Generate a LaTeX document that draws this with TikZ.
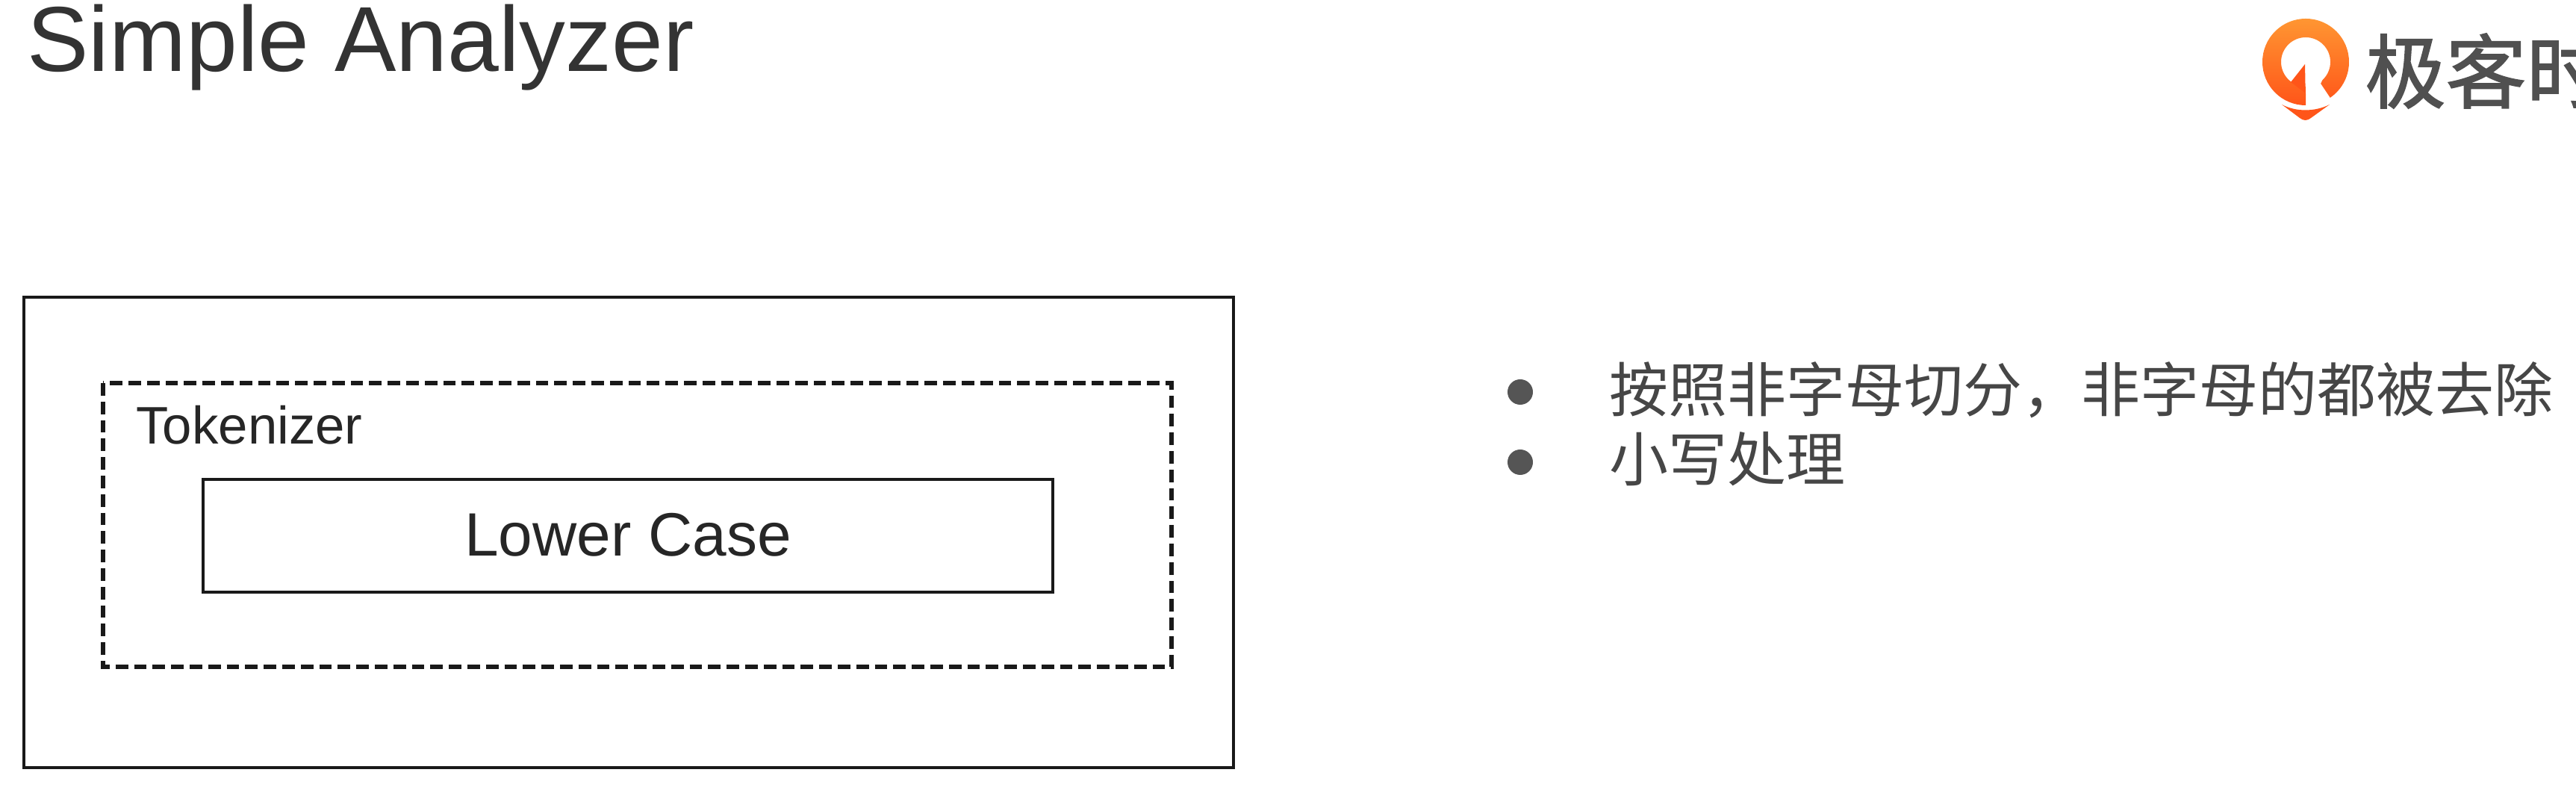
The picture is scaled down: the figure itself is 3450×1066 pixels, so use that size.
\documentclass[tikz,border=0pt]{standalone}
\usepackage{fontspec}
\setmainfont{Liberation Sans}
\newfontfamily\cjkfont{Noto Sans CJK SC}
\newfontfamily\logofont[FakeBold=1.5]{Noto Sans CJK SC}
\usetikzlibrary{shadings}
\definecolor{bodygray}{RGB}{70,70,70}
\definecolor{bulletgray}{RGB}{85,85,85}
\definecolor{logogray}{RGB}{80,80,80}
\definecolor{logotop}{RGB}{255,150,50}
\definecolor{logobottom}{RGB}{255,85,25}
\tikzset{every picture/.style={line width=0.75pt},
  framebox/.style={draw=black!90,line width=1.2pt},
  titletext/.style={font=\fontsize{30.9}{36}\selectfont,text=black!80,inner sep=0pt,anchor=base west},
  boxtext/.style={font=\fontsize{17.7}{20}\selectfont,text=black!85,inner sep=0pt,anchor=base west},
  bodytext/.style={font=\cjkfont\fontsize{19.75}{24}\selectfont,text=bodygray,inner sep=0pt,anchor=west},
  logotext/.style={font=\logofont\fontsize{27}{32}\selectfont,text=logogray,inner sep=0pt,anchor=west},
  bulletdot/.style={circle,fill=bulletgray,inner sep=0pt,minimum size=8.5pt}}

\begin{document}
\begin{tikzpicture}[x=0.25pt,y=0.25pt,yscale=-1]
\path[use as bounding box,fill=white] (0,0) rectangle (3450,1066);
\clip (0,0) rectangle (3450,1066);

%Title
\node[titletext] (title) at (35,96) {Simple Analyzer};

%Logo
\path[top color=logotop,bottom color=logobottom,even odd rule] (3088,83) circle [radius=58] (3088,83) circle [radius=33];
\fill[white] (3088,84) -- (3088,146) -- (3124,136) -- (3108,112) -- (3118,90) -- cycle;
\fill[logobottom] (3087,86) -- (3068,110) -- (3088,125) -- (3088,141) -- cycle;
\fill[logobottom] (3056,140) .. controls (3075,150) and (3100,150) .. (3120,140) -- (3095,158) .. controls (3090,162) and (3085,162) .. (3080,158) -- cycle;
\node[logotext] (logo) at (3166,95) {极客时};

%Outer box
\draw[framebox] (32,398) rectangle (1652,1028);
%Tokenizer box
\draw[framebox,line width=1.4pt,dash pattern={on 4.2pt off 2pt}] (138,513) rectangle (1569,893);
\node[boxtext] (tokenizer) at (181,595) {Tokenizer};
%Lower case box
\draw[framebox] (272,642) rectangle (1410,793);
\node[boxtext,font=\fontsize{20.5}{24}\selectfont,anchor=base] (lowercase) at (841,745) {Lower Case};

%Bullets
\node[bulletdot] (dota) at (2036,525) {};
\node[bulletdot] (dotb) at (2036,619) {};
\node[bodytext] (linea) at (2154,522) {按照非字母切分，非字母的都被去除};
\node[bodytext] (lineb) at (2154,615) {小写处理};

\end{tikzpicture}
\end{document}
